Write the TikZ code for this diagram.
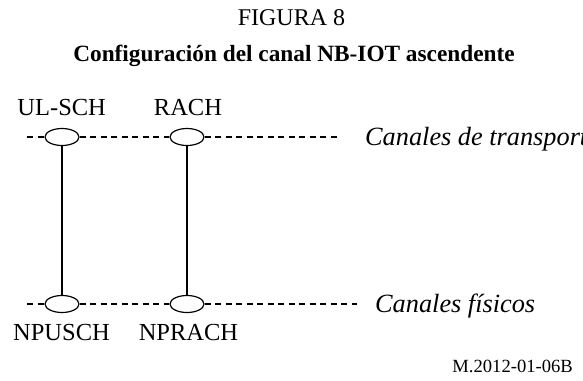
\documentclass[tikz,border=0pt]{standalone}
\usepackage{fontspec}
\setmainfont{Liberation Serif}
\usetikzlibrary{shapes.geometric}
\tikzset{
  chan/.style={draw, ellipse, line width=1.2pt, minimum width=34pt, minimum height=17pt, inner sep=0pt, fill=white},
  dline/.style={line width=1.1pt, dash pattern=on 6pt off 4.5pt},
  vline/.style={line width=1.1pt},
  lbl/.style={anchor=base, inner sep=0pt, font=\fontsize{24.5}{29}\selectfont},
  lay/.style={anchor=base west, inner sep=0pt, font=\fontsize{26.3}{31}\selectfont\itshape},
}
\begin{document}
\begin{tikzpicture}[x=1pt,y=-1pt]
\useasboundingbox (0,0) rectangle (583,380);
% titles
\node[anchor=base, inner sep=0pt, font=\fontsize{24}{28}\selectfont] (fig) at (291.5,25) {FIGURA 8};
\node[anchor=base, inner sep=0pt, font=\fontsize{23.3}{28}\selectfont\bfseries] (tit) at (294,61) {Configuración del canal NB-IOT ascendente};
% channels
\node[chan] (ul) at (62,137) {};
\node[chan] (ra) at (187,137) {};
\node[chan] (np) at (62,304) {};
\node[chan] (nr) at (187,304) {};
\coordinate (tl) at (27,137);
\coordinate (tr) at (338,137);
\coordinate (bl) at (27,304);
\coordinate (br) at (357,304);
% dashed layer lines
\draw[dline] (tl) -- (ul.west);
\draw[dline] (ul.east) -- (ra.west);
\draw[dline] (ra.east) -- (tr);
\draw[dline] (bl) -- (np.west);
\draw[dline] (np.east) -- (nr.west);
\draw[dline] (nr.east) -- (br);
% mapping
\draw[vline] (ul.south) -- (np.north);
\draw[vline] (ra.south) -- (nr.north);
% labels
\node[lbl] (lul) at (61.7,115) {UL-SCH};
\node[lbl] (lra) at (188,115) {RACH};
\node[lbl] (lnp) at (61.5,340) {NPUSCH};
\node[lbl] (lnr) at (188.5,340) {NPRACH};
\node[lay] (ltr) at (365,145) {Canales de transporte};
\node[lay] (lph) at (375,312) {Canales físicos};
\node[anchor=base east, inner sep=0pt, font=\fontsize{18.6}{22}\selectfont] (ref) at (573,372) {M.2012-01-06B};
\end{tikzpicture}
\end{document}
